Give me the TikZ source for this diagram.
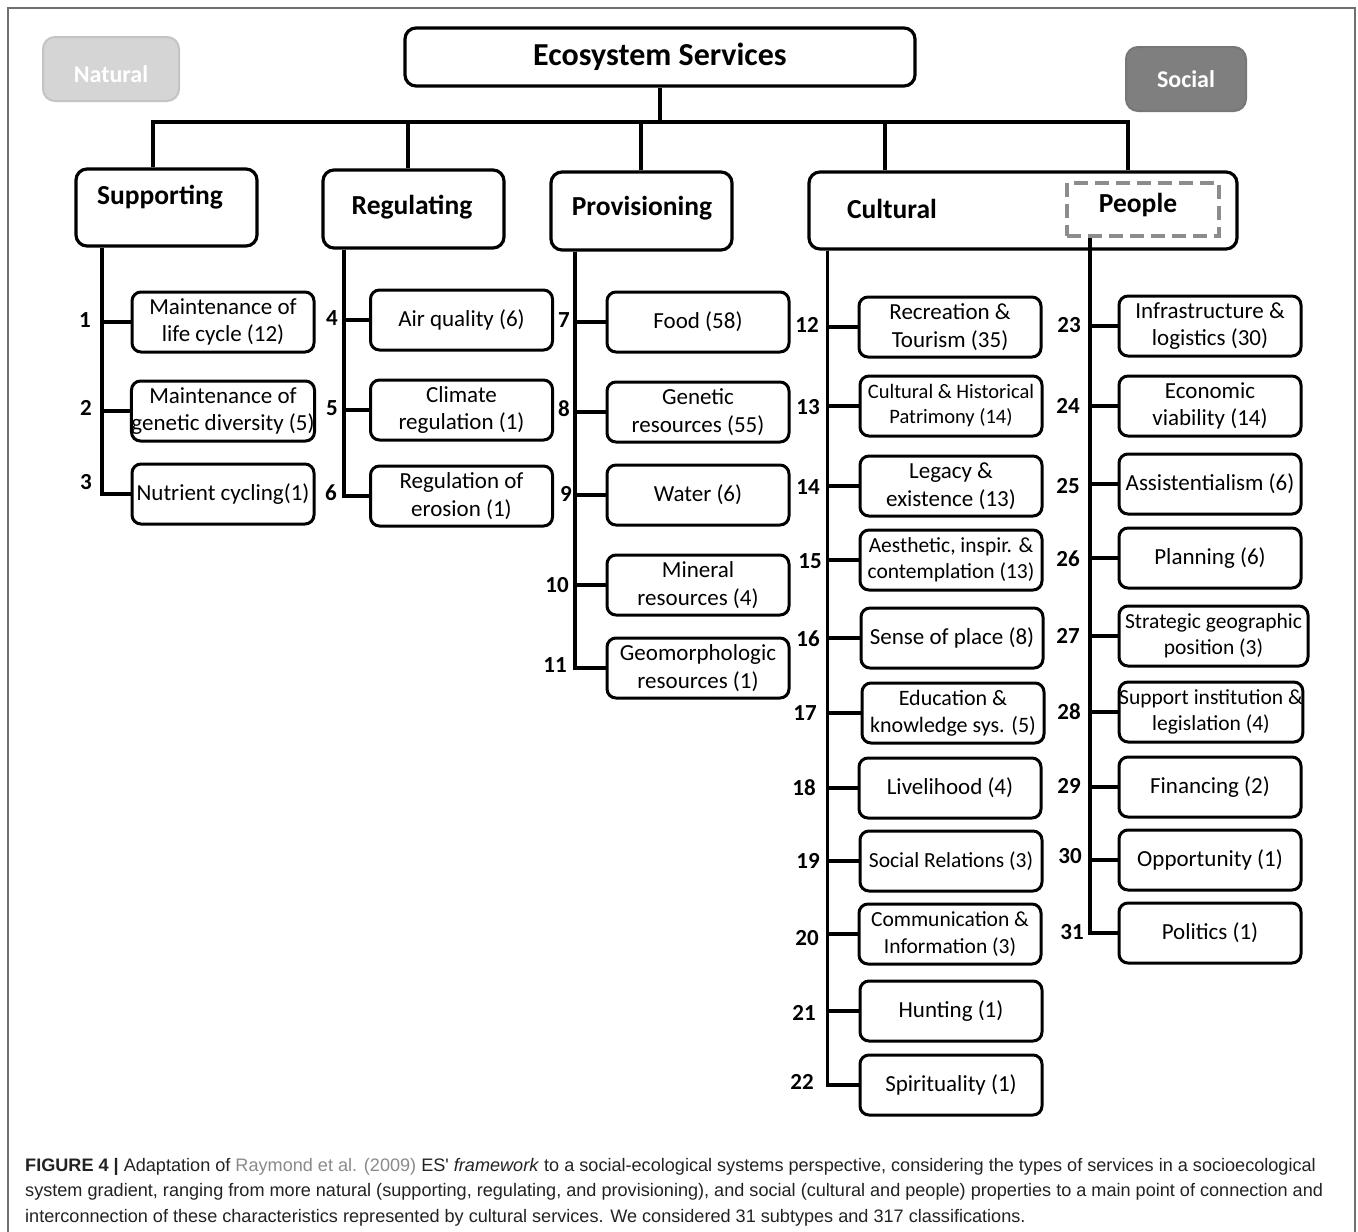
\documentclass[tikz,border=0pt]{standalone}
\usepackage{fontspec}
\setmainfont{Carlito}
\newfontfamily\capfont{Liberation Sans}
\definecolor{natfill}{HTML}{D5D5D5}
\definecolor{natdraw}{HTML}{C4C4C4}
\definecolor{socfill}{HTML}{7F7F7F}
\definecolor{socdraw}{HTML}{777777}
\definecolor{pepdash}{HTML}{8C8C8C}
\definecolor{framecol}{HTML}{707070}
\definecolor{capgray}{HTML}{8A8A8A}
\definecolor{captext}{HTML}{222222}
\begin{document}
\begin{tikzpicture}[x=1pt,y=-1pt,
  box/.style={draw, line width=3pt, rounded corners=9pt, minimum width=182pt, minimum height=60pt, align=center, inner sep=0pt, font=\fontsize{23}{27.5}\selectfont},
  hdr/.style={draw, line width=3.2pt, rounded corners=11pt, inner sep=0pt, minimum width=181pt, minimum height=78pt},
  hdrtext/.style={font=\fontsize{27.5}{33}\selectfont\bfseries, inner sep=0pt},
  num/.style={font=\fontsize{23}{27}\selectfont\bfseries, inner sep=0pt},
  conn/.style={line width=3.8pt},
  tag/.style={rounded corners=12pt, line width=2pt, minimum height=64pt, text=white, font=\fontsize{24}{29}\selectfont\bfseries},
]
\useasboundingbox (0,0) rectangle (1358,1232);
\fill[white] (0,0) rectangle (1358,1232);
% frame
\draw[framecol, line width=1.2pt] (8,1232) -- (8,8) -- (1355,8) -- (1355,1232);

% tags
\node[tag, fill=natfill, draw=natdraw, minimum width=136pt, label={[text=white, font=\fontsize{24}{29}\selectfont\bfseries, yshift=-5pt]center:Natural}] (nat) at (111,69) {};
\node[tag, fill=socfill, draw=socdraw, minimum width=120pt] (soc) at (1186,79) {Social};

% root
\node[draw, line width=3.2pt, rounded corners=11pt, minimum width=510pt, minimum height=58pt, inner sep=0pt, font=\fontsize{32}{38}\selectfont\bfseries] (es) at (660,57) {Ecosystem Services};

% headers
\node[hdr, minimum height=77pt, label={[hdrtext, xshift=-6.5pt, yshift=10.5pt]center:Supporting}] (sup) at (166.5,207.5) {};
\node[hdr, label={[hdrtext, xshift=-1.5pt, yshift=2pt]center:Regulating}] (reg) at (413.5,209) {};
\node[hdr, label={[hdrtext, xshift=0.5pt, yshift=3pt]center:Provisioning}] (pro) at (641.5,211) {};
\node[hdr, minimum width=428pt, minimum height=77pt, label={[hdrtext, xshift=-131pt, yshift=1.5pt]center:Cultural}] (cul) at (1023,210.5) {};
\node[draw=pepdash, line width=4pt, dash pattern=on 14pt off 7pt, minimum width=152pt, minimum height=53pt, inner sep=0pt, label={[hdrtext, xshift=-5pt, yshift=4.5pt]center:People}] (ppl) at (1143,209.5) {};

% bus
\coordinate (bus) at (660,122);
\draw[conn] (es.south) -- (bus);
\draw[conn] (bus) -| ([xshift=-13.5pt]sup.north);
\draw[conn] (bus) -| ([xshift=-5.5pt]reg.north);
\draw[conn] (bus) -| ([xshift=-0.5pt]pro.north);
\draw[conn] (bus) -| ([xshift=-138pt]cul.north);
\draw[conn] (bus) -| ([xshift=105pt]cul.north);

% Supporting items
\node[box] (s1) at (223,322) {Maintenance of\\life cycle (12)};
\node[box] (s2) at (223,411) {Maintenance of\\genetic diversity (5)};
\node[box] (s3) at (223,494) {Nutrient cycling(1)};
\coordinate (st) at ([xshift=-64.5pt]sup.south);
\foreach \i in {1,2,3} \draw[conn] (st) |- (s\i.west);
\node[num] (ns1) at (85,320) {1};
\node[num] (ns2) at (86,408) {2};
\node[num] (ns3) at (86,482) {3};

% Regulating items
\node[box] (r1) at (461.5,320) {Air quality (6)};
\node[box] (r2) at (461.5,410) {Climate\\regulation (1)};
\node[box] (r3) at (461.5,496) {Regulation of\\erosion (1)};
\coordinate (rt) at ([xshift=-69.5pt]reg.south);
\foreach \i in {1,2,3} \draw[conn] (rt) |- (r\i.west);
\node[num] (nr1) at (332,318) {4};
\node[num] (nr2) at (332,408) {5};
\node[num] (nr3) at (331,493) {6};

% Provisioning items
\node[box] (p1) at (698,322) {Food (58)};
\node[box] (p2) at (698,412) {Genetic\\resources (55)};
\node[box] (p3) at (698,495) {Water (6)};
\node[box] (p4) at (698,585) {Mineral\\resources (4)};
\node[box] (p5) at (698,668) {Geomorphologic\\resources (1)};
\coordinate (pt) at ([xshift=-66.5pt]pro.south);
\foreach \i in {1,...,5} \draw[conn] (pt) |- (p\i.west);
\node[num] (np1) at (564,320) {7};
\node[num] (np2) at (564,409) {8};
\node[num] (np3) at (566,494) {9};
\node[num] (np4) at (557,585) {10};
\node[num] (np5) at (555,665) {11};

% Cultural items
\node[box] (c1) at (950,327) {Recreation \&\\Tourism (35)};
\node[box, font=\fontsize{20.5}{25}\selectfont] (c2) at (951,406) {Cultural \& Historical\\Patrimony (14)};
\node[box] (c3) at (951,486) {Legacy \&\\existence (13)};
\node[box, font=\fontsize{21.5}{26}\selectfont] (c4) at (951,560) {Aesthetic, inspir. \&\\contemplation (13)};
\node[box] (c5) at (952,638) {Sense of place (8)};
\node[box, font=\fontsize{22}{27}\selectfont] (c6) at (953,713) {Education \&\\knowledge sys. (5)};
\node[box] (c7) at (950,788) {Livelihood (4)};
\node[box, font=\fontsize{21.5}{26}\selectfont] (c8) at (951,861) {Social Relations (3)};
\node[box, font=\fontsize{21.5}{27}\selectfont] (c9) at (950,934) {Communication \&\\Information (3)};
\node[box] (c10) at (951,1011) {Hunting (1)};
\node[box] (c11) at (951,1085) {Spirituality (1)};
\coordinate (ct) at ([xshift=20pt]cul.south west);
\foreach \i in {1,...,11} \draw[conn] (ct) |- (c\i.west);
\node[num] (nc1) at (807,325) {12};
\node[num] (nc2) at (808,407) {13};
\node[num] (nc3) at (808,487) {14};
\node[num] (nc4) at (810,561) {15};
\node[num] (nc5) at (808,639) {16};
\node[num] (nc6) at (805,713) {17};
\node[num] (nc7) at (804,788) {18};
\node[num] (nc8) at (808,861) {19};
\node[num] (nc9) at (807,938) {20};
\node[num] (nc10) at (804,1013) {21};
\node[num] (nc11) at (802,1082) {22};

% People items
\node[box] (q1) at (1210,326) {Infrastructure \&\\logistics (30)};
\node[box] (q2) at (1210,406) {Economic\\viability (14)};
\node[box] (q3) at (1210,484) {Assistentialism (6)};
\node[box] (q4) at (1210,558) {Planning (6)};
\node[box, minimum width=189pt, font=\fontsize{21.5}{26}\selectfont] (q5) at (1213.5,636) {Strategic geographic\\position (3)};
\node[box, font=\fontsize{21.5}{26}\selectfont] (q6) at (1211,712) {Support institution \&\\legislation (4)};
\node[box] (q7) at (1210,787) {Financing (2)};
\node[box] (q8) at (1210,860) {Opportunity (1)};
\node[box] (q9) at (1210,933) {Politics (1)};
\coordinate (qt) at ([xshift=-53pt]ppl.south);
\foreach \i in {1,...,9} \draw[conn] (qt) |- (q\i.west);
\node[num] (nq1) at (1069,325) {23};
\node[num] (nq2) at (1068,406) {24};
\node[num] (nq3) at (1068,486) {25};
\node[num] (nq4) at (1068,559) {26};
\node[num] (nq5) at (1068,636) {27};
\node[num] (nq6) at (1069,712) {28};
\node[num] (nq7) at (1069,786) {29};
\node[num] (nq8) at (1070,856) {30};
\node[num] (nq9) at (1072,932) {31};

% caption
\node[anchor=north west, inner sep=0pt, align=left, text=captext, font=\capfont\fontsize{18.1}{25.5}\selectfont] (cap) at (25,1158)
{{\bfseries FIGURE 4 |} Adaptation of {\color{capgray}Raymond et al. (2009)} ES' \textit{framework} to a social-ecological systems perspective, considering the types of services in a socioecological\\
system gradient, ranging from more natural (supporting, regulating, and provisioning), and social (cultural and people) properties to a main point of connection and\\
interconnection of these characteristics represented by cultural services. We considered 31 subtypes and 317 classifications.};
\end{tikzpicture}
\end{document}
